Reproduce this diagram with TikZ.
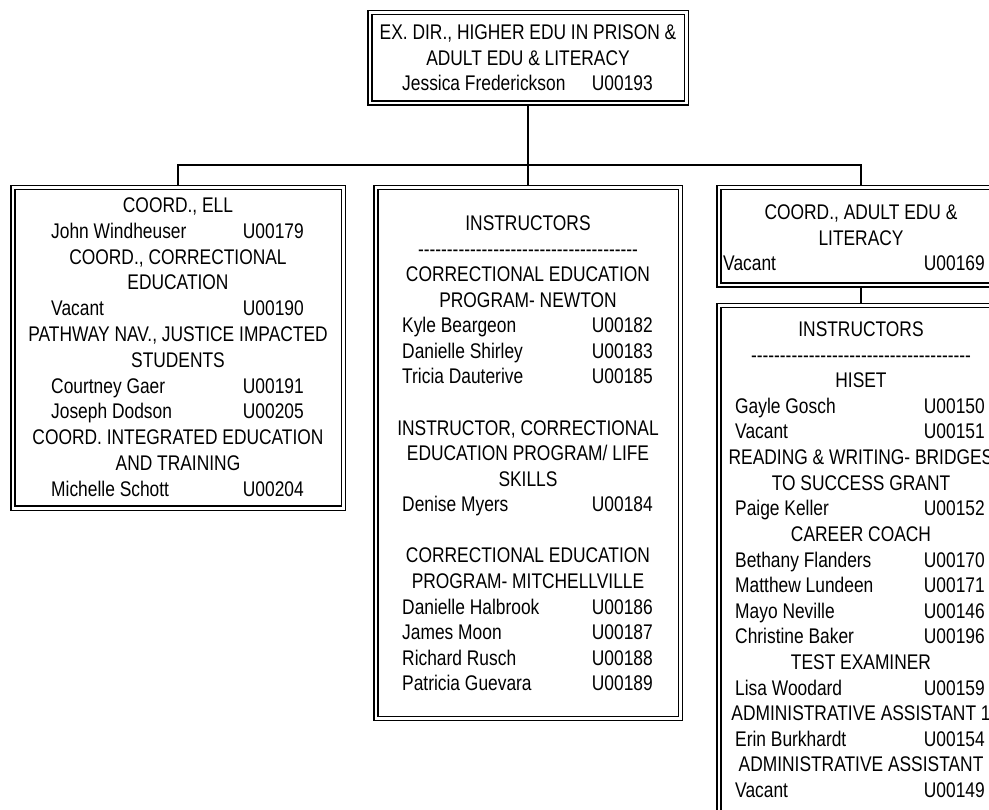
\documentclass[tikz,border=0pt]{standalone}
\usepackage{fontspec}
\setmainfont{Liberation Sans}
\newfontfamily\narrowfont{Liberation Sans}[FakeStretch=0.82]
\newcommand\dashrow{\count255=0 \loop -\kern0pt\advance\count255 by 1 \ifnum\count255<38 \repeat}
\begin{document}
\begin{tikzpicture}[x=1pt,y=-1pt,
  box/.style={draw, line width=1.6pt, double=white, double distance=2.4pt, inner sep=0pt, outer sep=2.8pt, fill=white},
  conn/.style={line width=1.8pt},
  txt/.style={inner sep=0pt, yshift=-1.4pt, font=\narrowfont\fontsize{21.2}{24}\selectfont},
  ctr/.style={txt, anchor=base},
  nm/.style={txt, anchor=base west},
  cd/.style={txt, anchor=base east}]
\useasboundingbox (0,0) rectangle (989,810);
\clip (0,0) rectangle (989,810);
\fill[white] (0,0) rectangle (989,810);
% boxes
\node[box, minimum width=316.6pt, minimum height=90.6pt] (top) at (528,58) {};
\node[box, minimum width=330.6pt, minimum height=320.6pt] (bl) at (178,348) {};
\node[box, minimum width=304.6pt, minimum height=530.6pt] (bm) at (528,453) {};
\node[box, minimum width=284.6pt, minimum height=97.6pt] (br1) at (861,236.5) {};
\node[box, minimum width=284.6pt, minimum height=534.3pt] (br2) at (861,572.85) {};
% connectors
\coordinate (j) at (528,165);
\draw[conn] (top.south) -- (bm.north);
\draw[conn] (bl.north) |- (j) -| (br1.north);
\draw[conn] (br1.south) -- (br2.north);
% top texts
\node[ctr] (t1) at (528,37.9) {EX. DIR., HIGHER EDU IN PRISON \&};
\node[ctr] (t2) at (528,63.7) {ADULT EDU \& LITERACY};
\node[nm] (t3) at (402,89.5) {Jessica Frederickson};
\node[cd] (t4) at (653,89.5) {U00193};
% left texts
\node[ctr] (l1) at (178,211.2) {COORD., ELL};
\node[nm] (l2) at (51,237.0) {John Windheuser};
\node[cd] (l2c) at (304,237.0) {U00179};
\node[ctr] (l3) at (178,262.8) {COORD., CORRECTIONAL};
\node[ctr] (l4) at (178,288.6) {EDUCATION};
\node[nm] (l5) at (51,314.4) {Vacant};
\node[cd] (l5c) at (304,314.4) {U00190};
\node[ctr] (l6) at (178,340.2) {PATHWAY NAV., JUSTICE IMPACTED};
\node[ctr] (l7) at (178,366.0) {STUDENTS};
\node[nm] (l8) at (51,391.8) {Courtney Gaer};
\node[cd] (l8c) at (304,391.8) {U00191};
\node[nm] (l9) at (51,417.6) {Joseph Dodson};
\node[cd] (l9c) at (304,417.6) {U00205};
\node[ctr] (l10) at (178,443.4) {COORD. INTEGRATED EDUCATION};
\node[ctr] (l11) at (178,469.2) {AND TRAINING};
\node[nm] (l12) at (51,495.0) {Michelle Schott};
\node[cd] (l12c) at (304,495.0) {U00204};
% middle texts
\node[ctr] (m1) at (528,229.2) {INSTRUCTORS};
\node[ctr] (m2) at (528,254.8) {\dashrow};
\node[ctr] (m3) at (528,280.3) {CORRECTIONAL EDUCATION};
\node[ctr] (m4) at (528,305.9) {PROGRAM- NEWTON};
\node[nm] (m5) at (402,331.4) {Kyle Beargeon};
\node[cd] (m5c) at (653,331.4) {U00182};
\node[nm] (m6) at (402,357.0) {Danielle Shirley};
\node[cd] (m6c) at (653,357.0) {U00183};
\node[nm] (m7) at (402,382.6) {Tricia Dauterive};
\node[cd] (m7c) at (653,382.6) {U00185};
\node[ctr] (m8) at (528,433.7) {INSTRUCTOR, CORRECTIONAL};
\node[ctr] (m9) at (528,459.2) {EDUCATION PROGRAM/ LIFE};
\node[ctr] (m10) at (528,484.8) {SKILLS};
\node[nm] (m11) at (402,510.4) {Denise Myers};
\node[cd] (m11c) at (653,510.4) {U00184};
\node[ctr] (m12) at (528,561.5) {CORRECTIONAL EDUCATION};
\node[ctr] (m13) at (528,587.0) {PROGRAM- MITCHELLVILLE};
\node[nm] (m14) at (402,612.6) {Danielle Halbrook};
\node[cd] (m14c) at (653,612.6) {U00186};
\node[nm] (m15) at (402,638.2) {James Moon};
\node[cd] (m15c) at (653,638.2) {U00187};
\node[nm] (m16) at (402,663.7) {Richard Rusch};
\node[cd] (m16c) at (653,663.7) {U00188};
\node[nm] (m17) at (402,689.3) {Patricia Guevara};
\node[cd] (m17c) at (653,689.3) {U00189};
% right 1 texts
\node[ctr] (r1) at (861,218.2) {COORD., ADULT EDU \&};
\node[ctr] (r2) at (861,243.7) {LITERACY};
\node[nm] (r3) at (723,269.2) {Vacant};
\node[cd] (r3c) at (985,269.2) {U00169};
% right 2 texts
\node[ctr] (s1) at (861,335.2) {INSTRUCTORS};
\node[ctr] (s2) at (861,360.8) {\dashrow};
\node[ctr] (s3) at (861,386.4) {HISET};
\node[nm] (s4) at (735,412.0) {Gayle Gosch};
\node[cd] (s4c) at (985,412.0) {U00150};
\node[nm] (s5) at (735,437.6) {Vacant};
\node[cd] (s5c) at (985,437.6) {U00151};
\node[ctr] (s6) at (861,463.2) {READING \& WRITING- BRIDGES};
\node[ctr] (s7) at (861,488.8) {TO SUCCESS GRANT};
\node[nm] (s8) at (735,514.4) {Paige Keller};
\node[cd] (s8c) at (985,514.4) {U00152};
\node[ctr] (s9) at (861,540.0) {CAREER COACH};
\node[nm] (s10) at (735,565.6) {Bethany Flanders};
\node[cd] (s10c) at (985,565.6) {U00170};
\node[nm] (s11) at (735,591.2) {Matthew Lundeen};
\node[cd] (s11c) at (985,591.2) {U00171};
\node[nm] (s12) at (735,616.8) {Mayo Neville};
\node[cd] (s12c) at (985,616.8) {U00146};
\node[nm] (s13) at (735,642.4) {Christine Baker};
\node[cd] (s13c) at (985,642.4) {U00196};
\node[ctr] (s14) at (861,668.0) {TEST EXAMINER};
\node[nm] (s15) at (735,693.6) {Lisa Woodard};
\node[cd] (s15c) at (985,693.6) {U00159};
\node[ctr] (s16) at (861,719.2) {ADMINISTRATIVE ASSISTANT 1};
\node[nm] (s17) at (735,744.8) {Erin Burkhardt};
\node[cd] (s17c) at (985,744.8) {U00154};
\node[ctr] (s18) at (861,770.4) {ADMINISTRATIVE ASSISTANT};
\node[nm] (s19) at (735,796.0) {Vacant};
\node[cd] (s19c) at (985,796.0) {U00149};
\end{tikzpicture}
\end{document}
